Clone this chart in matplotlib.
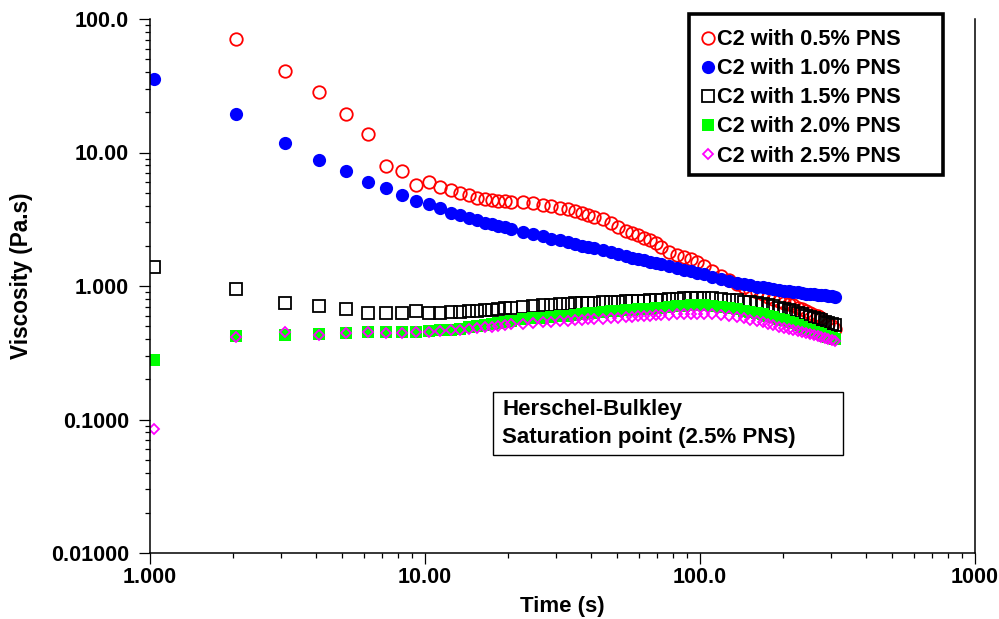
import numpy as np
import matplotlib
matplotlib.use("Agg")
from matplotlib import pyplot as plt
from matplotlib.ticker import FuncFormatter, LogLocator, NullFormatter
from matplotlib.patches import Rectangle

# time (s) and viscosity (Pa.s)
time_s = [1.03, 2.06, 3.09, 4.12, 5.15, 6.18, 7.21, 8.24, 9.27, 10.3,
          11.3, 12.4, 13.4, 14.4, 15.5, 16.5, 17.5, 18.5, 19.6, 20.6,
          22.7, 24.7, 26.8, 28.8, 30.9, 33.0, 35.0, 37.1, 39.1, 41.2,
          44.3, 47.4, 50.5, 53.6, 56.7, 59.7, 62.8, 65.9, 69.0, 72.1,
          77.3, 82.4, 87.6, 92.7, 97.9, 103, 111, 119, 128, 136,
          144, 152, 161, 169, 177, 185, 194, 202, 210, 218,
          227, 235, 243, 251, 260, 268, 276, 284, 293, 301, 309]

pns_05 = [np.nan, 70.5, 40.8, 28.5, 19.3, 13.7, 7.9, 7.27, 5.71, 5.98,
          5.55, 5.25, 4.95, 4.8, 4.6, 4.46, 4.4, 4.35, 4.3, 4.28,
          4.25, 4.15, 4.05, 3.95, 3.85, 3.75, 3.65, 3.5, 3.4, 3.3,
          3.15, 2.95, 2.75, 2.6, 2.5, 2.4, 2.3, 2.2, 2.1, 1.97,
          1.8, 1.72, 1.65, 1.58, 1.5, 1.42, 1.3, 1.18, 1.1, 1.03,
          0.98, 0.94, 0.9, 0.87, 0.83, 0.8, 0.77, 0.75, 0.73, 0.72,
          0.69, 0.67, 0.65, 0.63, 0.61, 0.6, 0.58, 0.55, 0.52, 0.5, 0.48]

pns_10 = [35.3, 19.3, 11.8, 8.79, 7.27, 5.98, 5.39, 4.83, 4.33, 4.09,
          3.85, 3.55, 3.4, 3.25, 3.1, 2.98, 2.9, 2.82, 2.75, 2.68,
          2.55, 2.45, 2.35, 2.26, 2.2, 2.13, 2.07, 2.01, 1.97, 1.93,
          1.86, 1.8, 1.73, 1.68, 1.63, 1.6, 1.56, 1.52, 1.49, 1.46,
          1.4, 1.36, 1.32, 1.29, 1.25, 1.22, 1.17, 1.13, 1.09, 1.06,
          1.03, 1.01, 0.99, 0.975, 0.96, 0.945, 0.93, 0.92, 0.91, 0.905,
          0.895, 0.885, 0.878, 0.87, 0.865, 0.86, 0.855, 0.85, 0.845, 0.838, 0.832]

pns_15 = [1.395, 0.955, 0.742, 0.708, 0.669, 0.631, 0.631, 0.631, 0.646, 0.631,
          0.63, 0.635, 0.64, 0.645, 0.65, 0.66, 0.665, 0.67, 0.68, 0.69,
          0.70, 0.71, 0.715, 0.72, 0.73, 0.735, 0.74, 0.745, 0.75, 0.752,
          0.755, 0.76, 0.763, 0.767, 0.77, 0.773, 0.777, 0.78, 0.785, 0.79,
          0.797, 0.805, 0.812, 0.818, 0.82, 0.82, 0.81, 0.8, 0.79, 0.78,
          0.765, 0.755, 0.745, 0.735, 0.72, 0.705, 0.69, 0.675, 0.66, 0.645,
          0.63, 0.615, 0.60, 0.59, 0.575, 0.565, 0.555, 0.54, 0.53, 0.52, 0.51]

pns_20 = [0.277, 0.422, 0.430, 0.437, 0.442, 0.452, 0.452, 0.452, 0.455, 0.46,
          0.465, 0.47, 0.48, 0.49, 0.50, 0.51, 0.52, 0.53, 0.54, 0.55,
          0.565, 0.575, 0.58, 0.589, 0.595, 0.60, 0.61, 0.62, 0.627, 0.632,
          0.638, 0.645, 0.652, 0.658, 0.663, 0.668, 0.673, 0.677, 0.68, 0.69,
          0.70, 0.705, 0.71, 0.715, 0.72, 0.72, 0.71, 0.70, 0.685, 0.67,
          0.655, 0.64, 0.63, 0.615, 0.60, 0.585, 0.57, 0.555, 0.54, 0.525,
          0.51, 0.495, 0.48, 0.468, 0.455, 0.445, 0.435, 0.425, 0.415, 0.407, 0.40]

pns_25 = [0.0853, 0.417, 0.450, 0.430, 0.442, 0.452, 0.445, 0.445, 0.452, 0.455,
          0.46, 0.465, 0.47, 0.478, 0.485, 0.49, 0.496, 0.50, 0.508, 0.515,
          0.522, 0.528, 0.533, 0.54, 0.545, 0.55, 0.555, 0.558, 0.562, 0.565,
          0.57, 0.575, 0.58, 0.585, 0.59, 0.593, 0.597, 0.60, 0.603, 0.606,
          0.61, 0.613, 0.616, 0.618, 0.618, 0.617, 0.612, 0.605, 0.595, 0.585,
          0.573, 0.56, 0.547, 0.535, 0.52, 0.507, 0.495, 0.485, 0.475, 0.468,
          0.458, 0.45, 0.443, 0.436, 0.428, 0.42, 0.413, 0.405, 0.398, 0.393, 0.389]

labels = ["C2 with 0.5% PNS", "C2 with 1.0% PNS", "C2 with 1.5% PNS",
          "C2 with 2.0% PNS", "C2 with 2.5% PNS"]
note_lines = ["Herschel-Bulkley", "Saturation point (2.5% PNS)"]

plt.rcParams["font.family"] = ["Liberation Sans", "DejaVu Sans"]
plt.rcParams["font.weight"] = "bold"
plt.rcParams["font.size"] = 15.5

fig = plt.figure(figsize=(9.99, 6.19), dpi=100)
ax = fig.add_axes([150 / 999, 66 / 619, 825 / 999, 534 / 619])

ax.plot(time_s, pns_05, ls="none", marker="o", ms=9, mfc="none", mec="#ff0000", mew=1.3, label=labels[0])
ax.plot(time_s, pns_10, ls="none", marker="o", ms=9.5, mfc="#0000ff", mec="#0000ff", mew=0, label=labels[1])
ax.plot(time_s, pns_15, ls="none", marker="s", ms=8, mfc="none", mec="#000000", mew=1.3, label=labels[2])
ax.plot(time_s, pns_20, ls="none", marker="s", ms=8.5, mfc="#00ff00", mec="#00ff00", mew=0, label=labels[3])
ax.plot(time_s, pns_25, ls="none", marker="D", ms=5.5, mfc="none", mec="#ff00ff", mew=1.3, label=labels[4])

ax.set_xscale("log")
ax.set_yscale("log")
ax.set_xlim(1, 1000)
ax.set_ylim(0.01, 100)

def sig4(v, pos):
    s = "%#.4g" % v
    return s.rstrip(".")

for axis in (ax.xaxis, ax.yaxis):
    axis.set_major_locator(LogLocator(base=10))
    axis.set_minor_locator(LogLocator(base=10, subs=np.arange(2, 10)))
    axis.set_major_formatter(FuncFormatter(sig4))
    axis.set_minor_formatter(NullFormatter())

ax.spines["top"].set_visible(False)
for side in ("left", "bottom", "right"):
    ax.spines[side].set_linewidth(1.1)
ax.tick_params(axis="both", which="major", direction="out", length=8, width=0.9)
ax.tick_params(axis="both", which="minor", direction="out", length=3.5, width=0.9)
ax.tick_params(axis="x", which="major", pad=2)
ax.tick_params(axis="y", which="major", pad=7)
ax.tick_params(right=False, top=False, which="both")

ax.set_xlabel("Time (s)", fontweight="bold", fontsize=16, labelpad=6)
ax.set_ylabel("Viscosity (Pa.s)", fontweight="bold", fontsize=16.3)
ax.yaxis.set_label_coords(-0.142, 0.519)

# legend without its own frame; the frame is drawn as a rectangle to match the box size
leg = ax.legend(loc="upper left", bbox_to_anchor=(686 / 999, 1 - 14 / 619),
                bbox_transform=fig.transFigure, borderaxespad=0, frameon=False,
                handlelength=0.62, handletextpad=0.1, labelspacing=0.37,
                borderpad=0.7, numpoints=1, prop={"weight": "bold", "size": 15.7})
fig.patches.append(Rectangle((689 / 999, 1 - 175 / 619), 254 / 999, 161 / 619,
                             transform=fig.transFigure, fill=False,
                             edgecolor="black", linewidth=2.6, zorder=5))

fig.patches.append(Rectangle((493 / 999, 164 / 619), 350 / 999, 63 / 619, transform=fig.transFigure,
                             fill=False, edgecolor="black", linewidth=1.0))
fig.text(502 / 999, 1 - 410 / 619, note_lines[0], va="center", ha="left", fontweight="bold", fontsize=16)
fig.text(502 / 999, 1 - 437 / 619, note_lines[1], va="center", ha="left", fontweight="bold", fontsize=16)

fig.savefig("out.png", dpi=100)
